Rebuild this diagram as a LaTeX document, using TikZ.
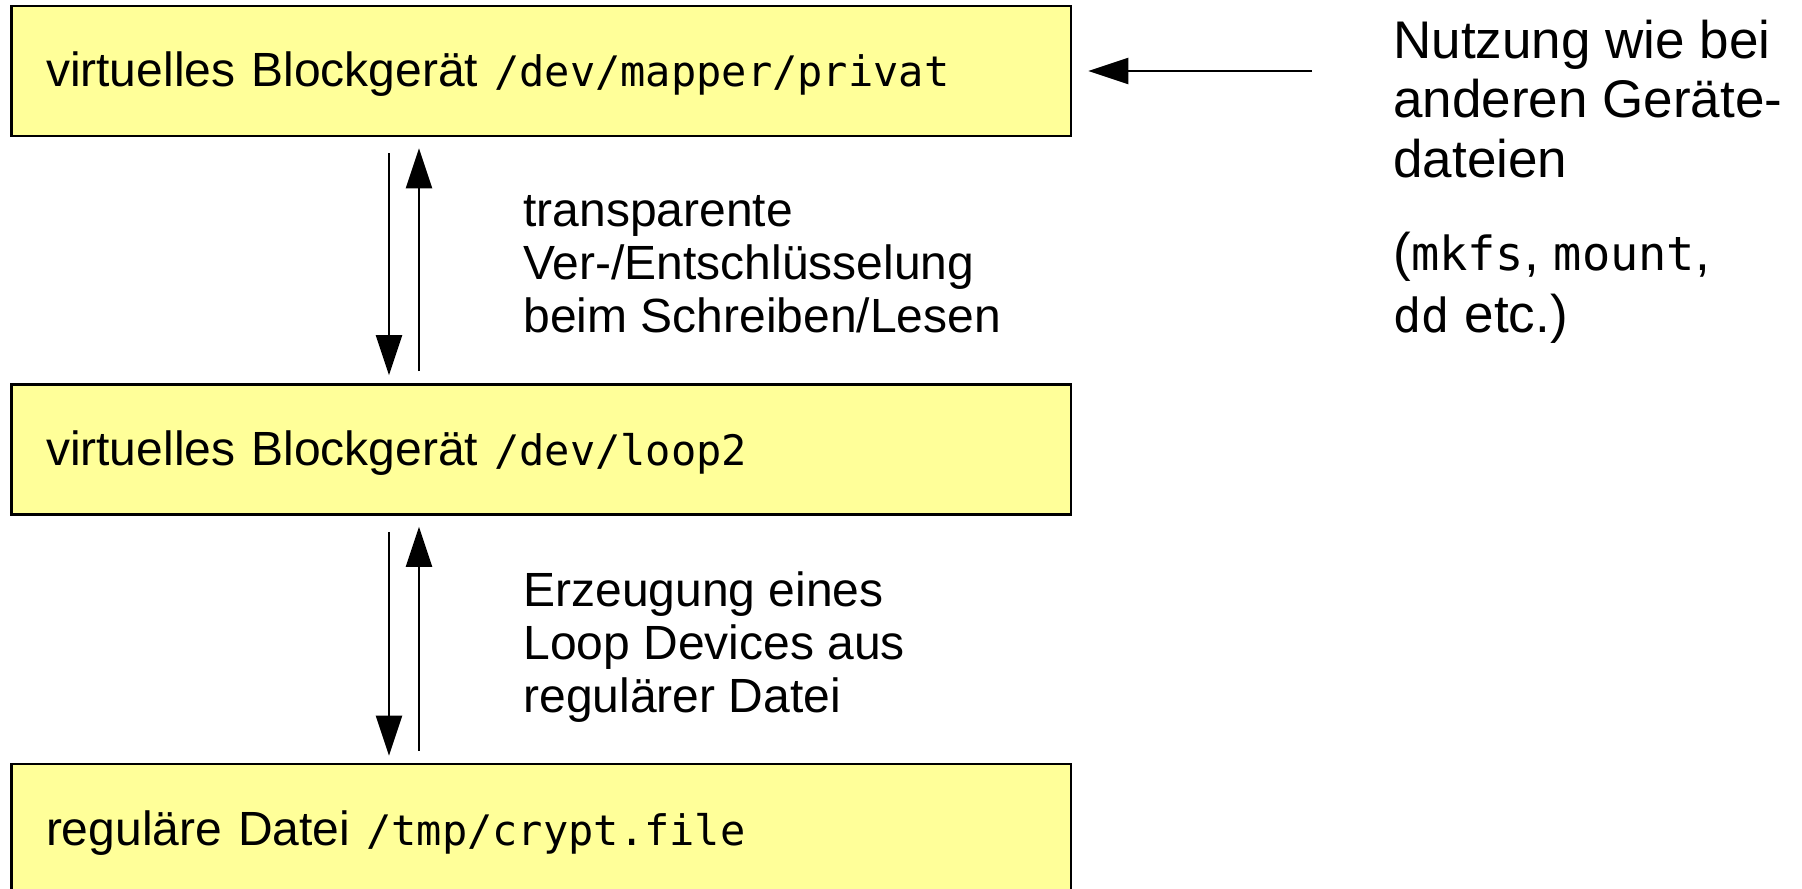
\documentclass[tikz,border=0pt]{standalone}
\usepackage{fontspec}
\setmainfont{Liberation Sans}
\setmonofont{DejaVu Sans Mono}
\usetikzlibrary{arrows.meta}
\definecolor{boxfill}{HTML}{FFFF99}
\newcommand\boxmono[1]{{\fontsize{21}{24}\selectfont\ttfamily #1}}
\newcommand\sidemono[1]{{\fontsize{23.5}{31}\selectfont\ttfamily #1}}
\begin{document}
\begin{tikzpicture}[x=0.5pt,y=-0.5pt,
  layerbox/.style={draw=black, line width=1.3pt, fill=boxfill, rectangle,
    minimum width=529.75pt, minimum height=65pt, text width=495.25pt,
    inner xsep=17.25pt, inner ysep=0pt, align=left,
    text height=21pt, text depth=5pt, font=\fontsize{24}{27}\selectfont},
  note/.style={align=left, inner sep=0pt, font=\fontsize{24}{26.5}\selectfont},
  side/.style={align=left, inner sep=0pt, font=\fontsize{26.5}{29.75}\selectfont},
  sidecode/.style={align=left, inner sep=0pt, font=\fontsize{26.5}{31}\selectfont},
  arr/.style={line width=1.1pt, -{Triangle[length=20pt,width=13pt]}}]
\useasboundingbox (0,0) rectangle (1802,888);
\node[layerbox] (b1) at (541.25,71) {virtuelles Blockgerät \boxmono{/dev/mapper/privat}};
\node[layerbox] (b2) at (541.25,449.5) {virtuelles Blockgerät \boxmono{/dev/loop2}};
\node[layerbox] (b3) at (541.25,829) {reguläre Datei \boxmono{/tmp/crypt.file}};
\node[note, anchor=base west] (t1) at (523,332) {transparente\\Ver-/Entschlüsselung\\beim Schreiben/Lesen};
\node[note, anchor=base west] (t2) at (523,712) {Erzeugung eines\\Loop Devices aus\\regulärer Datei};
\node[side, anchor=base west] (r1) at (1393,177) {Nutzung wie bei\\anderen Geräte-\\dateien};
\node[sidecode, anchor=base west] (r2) at (1393,332) {(\sidemono{mkfs}, \sidemono{mount},\\\sidemono{dd} etc.)};
\coordinate (src) at (1312,71);
\draw[arr, shorten >=8pt] (src) -- (b1.east |- src);
\draw[arr, shorten <=8pt, shorten >=4pt] ([xshift=-76.125pt]b1.south) -- ([xshift=-76.125pt]b2.north);
\draw[arr, shorten <=6pt, shorten >=5.5pt] ([xshift=-61.125pt]b2.north) -- ([xshift=-61.125pt]b1.south);
\draw[arr, shorten <=8pt, shorten >=3.5pt] ([xshift=-76.125pt]b2.south) -- ([xshift=-76.125pt]b3.north);
\draw[arr, shorten <=6pt, shorten >=5.5pt] ([xshift=-61.125pt]b3.north) -- ([xshift=-61.125pt]b2.south);
\end{tikzpicture}
\end{document}
